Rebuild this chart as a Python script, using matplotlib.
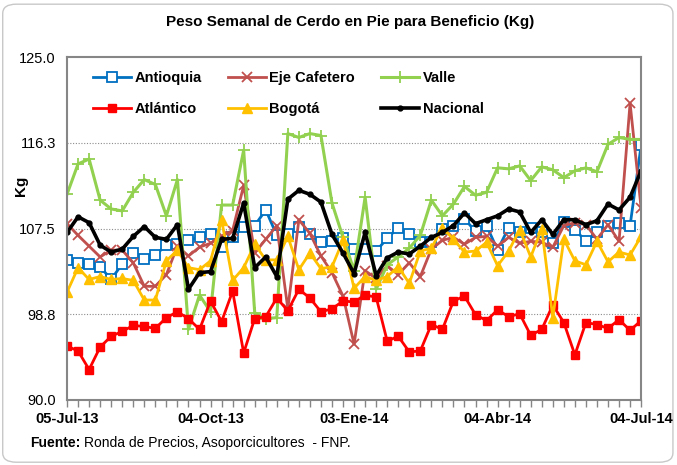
import matplotlib
matplotlib.use("Agg")
import matplotlib.pyplot as plt
from matplotlib.patches import FancyBboxPatch
import numpy as np

plt.rcParams['font.family'] = ['Liberation Sans', 'DejaVu Sans']

# semanas: 05-Jul-13 ... 04-Jul-14 (53 semanas)
tick_labels = ['05-Jul-13', '04-Oct-13', '03-Ene-14', '04-Abr-14', '04-Jul-14']
tick_pos = [0, 13, 26, 39, 52]

antioquia = [104.3, 104.0, 103.9, 103.6, 102.3, 103.9, 105.0, 104.4, 104.8, 105.8,
             105.9, 106.3, 106.6, 106.9, 105.6, 106.6, 107.7, 107.8, 109.4, 106.8,
             106.9, 107.7, 106.9, 106.1, 106.2, 106.5, 105.4, 105.4, 105.2, 106.5,
             107.6, 106.9, 106.1, 106.1, 107.5, 107.8, 108.5, 107.2, 107.8, 105.3,
             107.6, 107.1, 107.6, 107.1, 106.0, 108.2, 107.4, 106.2, 107.1, 107.8,
             108.1, 107.8, 116.0]
eje_cafetero = [108.0, 106.8, 105.7, 104.6, 105.3, 105.3, 104.0, 101.6, 101.6, 102.8,
                105.7, 104.7, 105.6, 106.0, 106.7, 107.3, 111.9, 105.0, 106.4, 107.8,
                99.3, 108.4, 107.0, 104.7, 103.0, 100.6, 95.7, 103.2, 102.4, 103.7,
                102.8, 104.0, 102.6, 105.4, 106.3, 106.6, 105.9, 106.6, 106.7, 105.7,
                106.6, 106.0, 106.2, 106.1, 105.6, 107.8, 108.1, 107.9, 106.4, 107.9,
                106.2, 120.3, 109.6]
valle = [111.0, 114.1, 114.6, 110.4, 109.5, 109.3, 111.2, 112.5, 112.0, 108.8,
         112.5, 97.2, 100.7, 99.0, 109.9, 109.9, 115.5, 98.9, 98.3, 98.4,
         117.2, 116.8, 117.2, 117.0, 110.1, 106.6, 103.2, 110.7, 101.3, 103.8,
         104.6, 105.5, 106.8, 110.4, 108.8, 110.0, 111.8, 110.9, 111.2, 113.7,
         113.6, 113.9, 112.4, 113.8, 113.5, 112.7, 113.4, 113.7, 113.3, 116.1,
         116.8, 116.6, 116.6]
atlantico = [95.5, 95.0, 93.1, 95.4, 96.5, 97.0, 97.6, 97.5, 97.3, 98.4,
             99.0, 98.3, 97.2, 100.1, 98.0, 101.1, 94.8, 98.3, 98.5, 100.4,
             99.1, 101.3, 100.4, 99.0, 99.3, 100.1, 100.0, 100.7, 100.5, 96.0,
             96.5, 94.9, 95.0, 97.7, 97.2, 100.1, 100.6, 98.7, 98.1, 99.2,
             98.5, 98.8, 96.6, 97.2, 99.7, 97.9, 94.6, 97.9, 97.7, 97.3,
             98.2, 97.1, 98.1]
bogota = [101.0, 103.5, 102.3, 102.6, 102.3, 102.4, 102.2, 100.2, 100.2, 104.2,
          105.3, 103.5, 103.3, 104.2, 108.4, 102.2, 103.5, 105.9, 104.3, 104.3,
          106.7, 103.3, 105.0, 103.4, 103.6, 106.3, 101.4, 102.6, 102.2, 102.6,
          103.6, 101.9, 105.2, 105.5, 107.6, 106.4, 105.1, 105.2, 106.1, 103.7,
          105.2, 107.4, 104.6, 107.5, 98.4, 106.4, 104.2, 103.8, 106.2, 104.1,
          105.1, 104.8, 106.7]
nacional = [107.1, 108.7, 108.1, 105.8, 105.1, 105.4, 106.7, 107.7, 106.6, 106.4,
            107.9, 101.3, 103.0, 103.1, 106.4, 106.5, 110.1, 103.5, 104.6, 102.6,
            110.5, 111.4, 111.0, 110.2, 106.9, 105.0, 102.9, 107.1, 102.7, 104.5,
            105.1, 104.9, 105.7, 106.6, 107.1, 107.8, 109.1, 108.0, 108.4, 108.8,
            109.5, 109.2, 107.1, 108.4, 106.9, 108.4, 108.4, 107.9, 108.3, 110.0,
            109.4, 110.7, 113.4]

x = np.arange(len(nacional))

fig = plt.figure(figsize=(6.77, 4.65), dpi=100)
# marco redondeado
fig.patches.append(FancyBboxPatch((0.004, 0.006), 0.99, 0.985, boxstyle="round,pad=0,rounding_size=0.02",
                                  transform=fig.transFigure, facecolor='white', edgecolor='#c8c8c8',
                                  linewidth=1.0, zorder=-1))
ax = fig.add_axes([0.099, 0.140, 0.848, 0.737])

l_ant, = ax.plot(x, antioquia, color='#0070C0', lw=2, marker='s', ms=6.5, mfc='white', mec='#0070C0', mew=1.3,
                 label='Antioquia')
l_eje, = ax.plot(x, eje_cafetero, color='#C0504D', lw=2, marker='x', ms=6.5, mew=1.3, label='Eje Cafetero')
l_val, = ax.plot(x, valle, color='#92D050', lw=2.2, marker='+', ms=8, mew=1.3, label='Valle')
l_atl, = ax.plot(x, atlantico, color='#FF0000', lw=2, marker='s', ms=5.5, mfc='#FF0000', mec='#FF0000',
                 label='Atlántico')
l_bog, = ax.plot(x, bogota, color='#FFC000', lw=2, marker='^', ms=6.5, mfc='#FFC000', mec='#FFC000',
                 label='Bogotá')
l_nac, = ax.plot(x, nacional, color='black', lw=2.6, marker='o', ms=3.5, label='Nacional')

ax.set_xlim(0, 52)
ax.set_ylim(90, 125)
yt = [90.0, 98.75, 107.5, 116.25, 125.0]
ax.set_yticks(yt)
ax.set_yticklabels(['90.0', '98.8', '107.5', '116.3', '125.0'], fontsize=10.5)
ax.set_xticks(x)
ax.set_xticklabels([tick_labels[tick_pos.index(i)] if i in tick_pos else '' for i in x],
                   fontsize=10.5, fontweight='bold')
ax.tick_params(axis='x', length=5, color='#868686', width=1, pad=4)
ax.tick_params(axis='y', length=0, pad=8)
ax.set_ylabel('Kg', fontsize=11, fontweight='bold')
ax.yaxis.set_label_coords(-0.068, 0.625)

for y in yt[1:-1]:
    ax.axhline(y, color='#8c8c8c', lw=0.8, ls=(0, (1, 1.5)), zorder=0)
for s in ax.spines.values():
    s.set_color('#868686')
    s.set_linewidth(1.5)

fig.text(0.517, 0.952, 'Peso Semanal de Cerdo en Pie para Beneficio (Kg)', ha='center', va='center',
         fontsize=11, fontweight='bold')

handles = [l_ant, l_atl, l_eje, l_bog, l_val, l_nac]
ax.legend(handles=handles, labels=[h.get_label() for h in handles], ncol=3, loc='upper left',
          bbox_to_anchor=(0.045, 0.96), frameon=False, borderpad=0, borderaxespad=0,
          handlelength=2.6, handletextpad=0.25, columnspacing=1.8, labelspacing=1.15, numpoints=1,
          prop={'size': 10.5, 'weight': 'bold'})

t1 = fig.text(0.045, 0.047, 'Fuente:', fontsize=10, fontweight='bold', va='center')
fig.canvas.draw()
bb = t1.get_window_extent().transformed(fig.transFigure.inverted())
fig.text(bb.x1 + 0.004, 0.047, 'Ronda de Precios, Asoporcicultores  - FNP.', fontsize=10, va='center')

fig.savefig('out.png', dpi=100)
